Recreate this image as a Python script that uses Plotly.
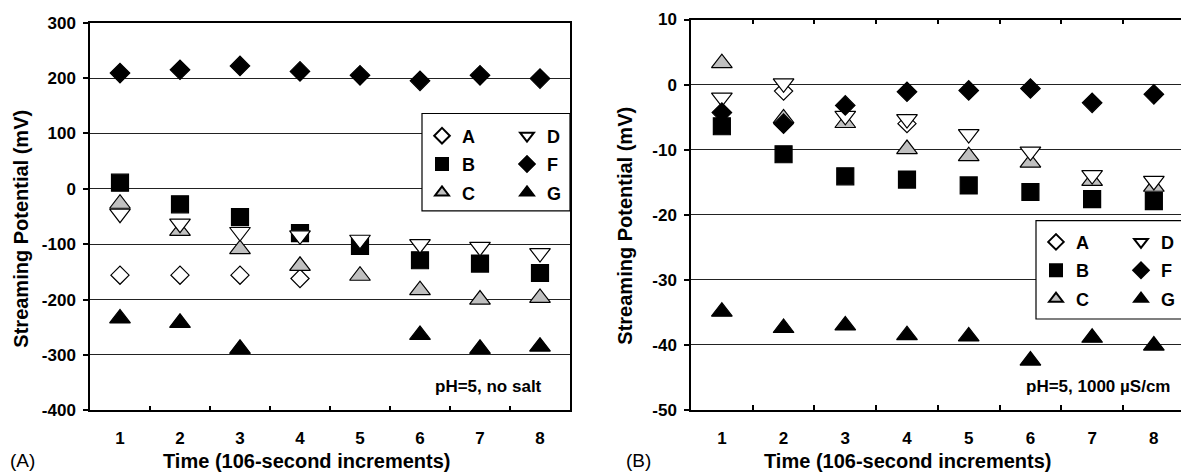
import plotly.graph_objects as go

W, H = 1181, 473

# ---------------- data ----------------
categories = [1, 2, 3, 4, 5, 6, 7, 8]
series_names = ["A", "B", "C", "D", "F", "G"]

# Panel (A): pH=5, no salt
A_noSalt = [-156, -156, -156, -162, None, None, None, None]
B_noSalt = [11, -28, -51, -80, -103, -129, -135, -152]
C_noSalt = [-27, -76, -109, -139, -157, -183, -200, -197]
D_noSalt = [-45, -63, -78, -84, -92, -100, -105, -116]
F_noSalt = [209, 215, 222, 212, 205, 195, 205, 199]
G_noSalt = [-234, -242, -289, None, None, -264, -289, -285]

# Panel (B): pH=5, 1000 uS/cm
A_salt = [None, -1.0, None, -6.0, None, None, None, None]
B_salt = [-6.4, -10.7, -14.1, -14.6, -15.5, -16.5, -17.6, -17.9]
C_salt = [3.3, -5.2, -5.9, -9.9, -11.0, -12.0, -14.8, -15.7]
D_salt = [-2.0, 0.2, -4.8, -5.3, -7.6, -10.3, -13.9, -14.8]
F_salt = [-4.3, -6.0, -3.2, -1.1, -0.9, -0.6, -2.8, -1.5]
G_salt = [-34.9, -37.4, -37.0, -38.5, -38.7, -42.4, -38.9, -40.1]

ticks_a = [300, 200, 100, 0, -100, -200, -300, -400]
ticklabels_a = ["300", "200", "100", "0", "-100", "-200", "-300", "-400"]
ticks_b = [10, 0, -10, -20, -30, -40, -50]
ticklabels_b = ["10", "0", "-10", "-20", "-30", "-40", "-50"]

panelA = [A_noSalt, B_noSalt, C_noSalt, D_noSalt, F_noSalt, G_noSalt]
panelB = [A_salt, B_salt, C_salt, D_salt, F_salt, G_salt]

# ---------------- styles ----------------
FONT = "Liberation Sans, Arial, sans-serif"
styles = {
    "A": dict(symbol="diamond", color="white", size=14),
    "B": dict(symbol="square", color="black", size=17),
    "C": dict(symbol="triangle-up", color="#c0c0c0", size=18),
    "D": dict(symbol="triangle-down", color="white", size=18),
    "F": dict(symbol="diamond", color="black", size=15),
    "G": dict(symbol="triangle-up", color="black", size=18),
}

# vertical placement calibrated to the rendered page
Y0, HE = 7.7, 457.4

def px_x(p):
    return p / W

def px_y(p):
    return 1 - (p - Y0) / HE

fig = go.Figure()

legend_of = {"A": 0, "B": 0, "C": 0, "D": 1, "F": 1, "G": 1}
panels = [(panelA, "x", "y", ["legend", "legend2"]), (panelB, "x2", "y2", ["legend3", "legend4"])]
for vals_list, xa, ya, legs in panels:
    for name, vals in zip(series_names, vals_list):
        st = styles[name]
        fig.add_trace(go.Scatter(
            x=categories, y=vals, mode="markers", name=name,
            xaxis=xa, yaxis=ya,
            legend=legs[legend_of[name]], legendgroup=xa + name,
            marker=dict(symbol=st["symbol"], size=st["size"], color=st["color"],
                        line=dict(color="black", width=1.2)),
            showlegend=True, hoverinfo="x+y",
        ))

tickfont = dict(family=FONT, size=17, color="black", weight="bold")
common_x = dict(range=[0.5, 8.5], tickvals=categories, ticktext=[str(c) for c in categories],
                ticks="", showgrid=False, zeroline=False, showline=True,
                linecolor="black", linewidth=1.5, tickfont=tickfont,
                ticklabelstandoff=12,
                minor=dict(tickvals=[c + 0.5 for c in categories[:-1]], ticks="inside",
                           ticklen=5, tickwidth=1.5, tickcolor="black", showgrid=False))
common_y = dict(ticks="outside", ticklen=5, tickwidth=1.5, tickcolor="black",
                showgrid=True, gridcolor="#222222", gridwidth=1.2, zeroline=False,
                showline=True, linecolor="black", linewidth=1.5, tickfont=tickfont,
                ticklabelstandoff=4)

fig.update_layout(
    autosize=True, margin=dict(l=0, r=0, t=0, b=0),
    paper_bgcolor="white", plot_bgcolor="white",
    xaxis=dict(common_x, domain=[px_x(90), px_x(570)], anchor="y", mirror=True),
    yaxis=dict(common_y, domain=[px_y(412), px_y(21.5)], anchor="x", range=[-400, 300],
               tickvals=ticks_a, ticktext=ticklabels_a, mirror=True),
    xaxis2=dict(common_x, domain=[px_x(691), 1.0], anchor="y2", mirror="ticks"),
    yaxis2=dict(common_y, domain=[px_y(411.7), px_y(18.3)], anchor="x2", range=[-50, 10],
                tickvals=ticks_b, ticktext=ticklabels_b, mirror=False),
)
fig.update_layout(xaxis2_range=[0.5, 8.44])

legfont = dict(family=FONT, size=18, color="black", weight="bold")
def leg(xp, yp):
    return dict(x=px_x(xp), y=px_y(yp), xanchor="left", yanchor="top",
                bgcolor="rgba(0,0,0,0)", borderwidth=0, font=legfont,
                itemsizing="constant", tracegroupgap=2, orientation="v")

fig.update_layout(
    legend=leg(422, 117), legend2=leg(507, 117),
    legend3=leg(1036, 224), legend4=leg(1121, 224),
)

# legend boxes
fig.add_shape(type="rect", xref="paper", yref="paper",
              x0=px_x(422), x1=px_x(570), y0=px_y(211), y1=px_y(113),
              fillcolor="white", line=dict(color="black", width=1.2), layer="above")
fig.add_shape(type="rect", xref="paper", yref="paper",
              x0=px_x(1036), x1=1.02, y0=px_y(320), y1=px_y(221),
              fillcolor="white", line=dict(color="black", width=1.2), layer="above")

title_font = dict(family=FONT, size=20, color="black", weight="bold")
label_font = dict(family=FONT, size=19, color="black")
ann_font = dict(family=FONT, size=17, color="black", weight="bold")
anns = [
    dict(x=px_x(307), y=px_y(463), text="Time (106-second increments)", font=title_font,
         xanchor="center", yanchor="middle"),
    dict(x=px_x(908), y=px_y(463), text="Time (106-second increments)", font=title_font,
         xanchor="center", yanchor="middle"),
    dict(x=px_x(21), y=px_y(229), text="Streaming Potential (mV)", font=title_font,
         textangle=-90, xanchor="center", yanchor="middle"),
    dict(x=px_x(625), y=px_y(226), text="Streaming Potential (mV)", font=title_font,
         textangle=-90, xanchor="center", yanchor="middle"),
    dict(x=px_x(8), y=px_y(463), text="(A)", font=label_font, xanchor="left", yanchor="middle"),
    dict(x=px_x(624), y=px_y(463), text="(B)", font=label_font, xanchor="left", yanchor="middle"),
    dict(x=px_x(544), y=px_y(388), text="pH=5, no salt", font=ann_font,
         xanchor="right", yanchor="middle"),
    dict(x=px_x(1172), y=px_y(388), text="pH=5, 1000 µS/cm", font=ann_font,
         xanchor="right", yanchor="middle"),
]
for a in anns:
    a.update(xref="paper", yref="paper", showarrow=False)
fig.update_layout(annotations=anns)

fig.write_html("out.html", config={"displayModeBar": False, "responsive": True},
               default_width="100%", default_height="100%")
with open("out.html", "r", encoding="utf-8") as f:
    html = f.read()
html = html.replace(
    "<head>",
    "<head><style>html,body{margin:0;padding:0;width:100%;height:100%;overflow:hidden;}</style>",
    1)
with open("out.html", "w", encoding="utf-8") as f:
    f.write(html)
